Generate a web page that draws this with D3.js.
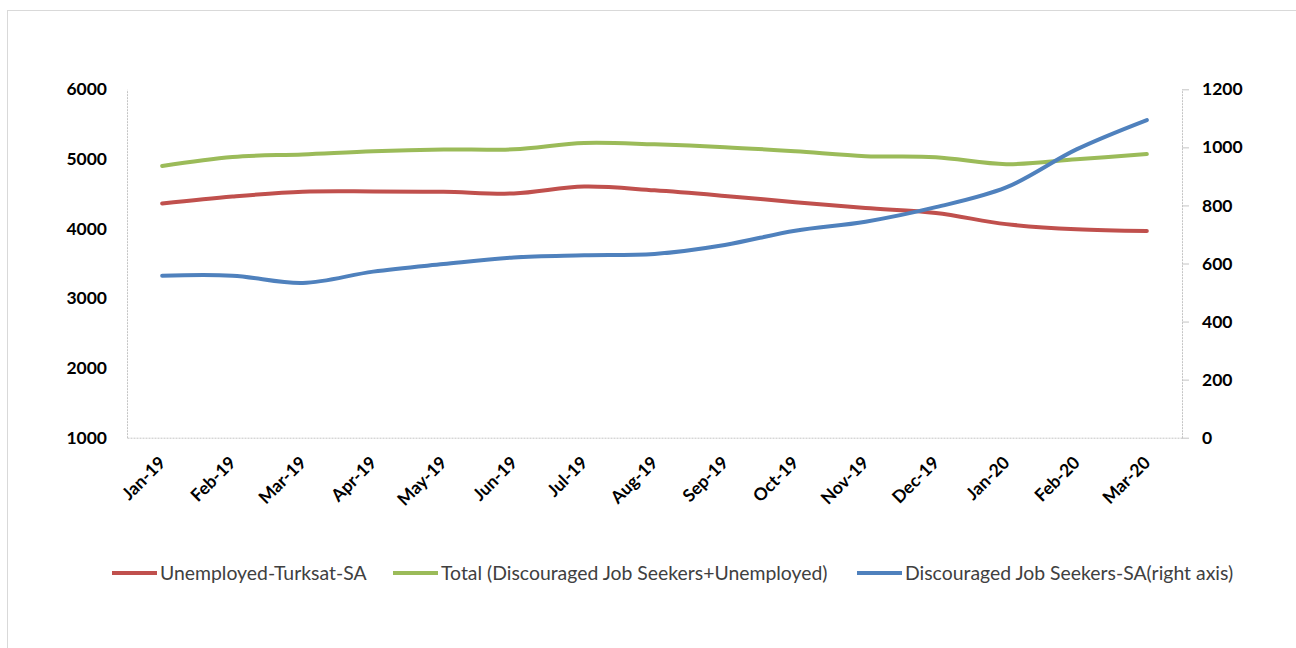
<!DOCTYPE html>
<html>
<head>
<meta charset="utf-8">
<script src="https://cdn.jsdelivr.net/npm/d3@7"></script>
<style>
  html, body { margin: 0; padding: 0; background: #fff; }
  svg { display: block; font-family: Lato, "Open Sans", sans-serif; }
</style>
</head>
<body>
<svg id="chart"></svg>
<script>
const width = 1296;
const height = 648;

// monthly series, thousands of persons
const months = ["Jan-19", "Feb-19", "Mar-19", "Apr-19", "May-19", "Jun-19", "Jul-19",
  "Aug-19", "Sep-19", "Oct-19", "Nov-19", "Dec-19", "Jan-20", "Feb-20", "Mar-20"];
const unemployed = [4360, 4460, 4530, 4535, 4530, 4505, 4605, 4550, 4470, 4380,
  4295, 4225, 4065, 3990, 3965];
const total = [4900, 5030, 5065, 5110, 5135, 5140, 5230, 5210, 5170, 5110,
  5040, 5025, 4925, 4995, 5070];
const discouraged = [558, 558, 533, 572, 598, 621, 628, 633, 664, 713,
  744, 794, 862, 993, 1094];

const leftTicks = [1000, 2000, 3000, 4000, 5000, 6000];
const rightTicks = [0, 200, 400, 600, 800, 1000, 1200];

const series = [
  { name: "Unemployed-Turksat-SA", values: unemployed, color: "#C0504D", axis: "left", legendX: 112 },
  { name: "Total (Discouraged Job Seekers+Unemployed)", values: total, color: "#9BBB59", axis: "left", legendX: 393 },
  { name: "Discouraged Job Seekers-SA(right axis)", values: discouraged, color: "#4F81BD", axis: "right", legendX: 857 }
];

const plot = { left: 127, right: 1182, top: 89.3, bottom: 437.7 };

const svg = d3.select("#chart").attr("width", width).attr("height", height);

// outer chart frame
svg.append("rect")
  .attr("x", 7.5).attr("y", 10.5)
  .attr("width", 1300).attr("height", 700)
  .attr("fill", "none")
  .attr("stroke", "#d9d9d9");

const x = d3.scalePoint()
  .domain(months)
  .range([plot.left, plot.right])
  .padding(0.5);

const yLeft = d3.scaleLinear().domain([1000, 6000]).range([plot.bottom, plot.top]);
const yRight = d3.scaleLinear().domain([0, 1200]).range([plot.bottom, plot.top]);

const axisColor = "#c4c4c4";

// left axis
const gLeft = svg.append("g")
  .attr("transform", `translate(${plot.left},0)`)
  .call(d3.axisLeft(yLeft).tickValues(leftTicks).tickFormat(d3.format("d")).tickSize(0).tickPadding(20));

// right axis
const gRight = svg.append("g")
  .attr("transform", `translate(${plot.right},0)`)
  .call(d3.axisRight(yRight).tickValues(rightTicks).tickFormat(d3.format("d")).tickSize(7).tickPadding(13).tickSizeOuter(0));

// category axis
const gBottom = svg.append("g")
  .attr("transform", `translate(0,${plot.bottom})`)
  .call(d3.axisBottom(x).tickSize(0).tickSizeOuter(0));

gBottom.selectAll("text")
  .attr("x", 0).attr("y", 0).attr("dy", 0)
  .attr("transform", "translate(4,26) rotate(-45)")
  .style("text-anchor", "end");

[gLeft, gRight, gBottom].forEach((g) => {
  g.select(".domain").attr("stroke", axisColor).attr("stroke-dasharray", "2,1");
  g.selectAll(".tick line").attr("stroke", axisColor);
  g.selectAll("text")
    .attr("fill", "#000")
    .style("font-weight", "bold")
    .style("font-family", "Lato, 'Open Sans', sans-serif");
});
gLeft.selectAll("text").style("font-size", "17.5px");
gRight.selectAll("text").style("font-size", "17.5px");
gBottom.selectAll("text").style("font-size", "17.5px");

// series lines
const lineFor = (scale) => d3.line()
  .x((d, i) => x(months[i]))
  .y((d) => scale(d))
  .curve(d3.curveCatmullRom.alpha(0.5));

series.forEach((s) => {
  svg.append("path")
    .datum(s.values)
    .attr("fill", "none")
    .attr("stroke", s.color)
    .attr("stroke-width", 4)
    .attr("stroke-linecap", "round")
    .attr("stroke-linejoin", "round")
    .attr("d", lineFor(s.axis === "left" ? yLeft : yRight));
});

// legend
const legendY = 573;
const legend = svg.append("g");
series.forEach((s) => {
  legend.append("line")
    .attr("x1", s.legendX).attr("x2", s.legendX + 45)
    .attr("y1", legendY).attr("y2", legendY)
    .attr("stroke", s.color)
    .attr("stroke-width", 4);
  legend.append("text")
    .attr("x", s.legendX + 48)
    .attr("y", legendY)
    .attr("dy", "0.35em")
    .attr("fill", "#404040")
    .style("font-size", "19.4px")
    .text(s.name);
});
</script>
</body>
</html>
